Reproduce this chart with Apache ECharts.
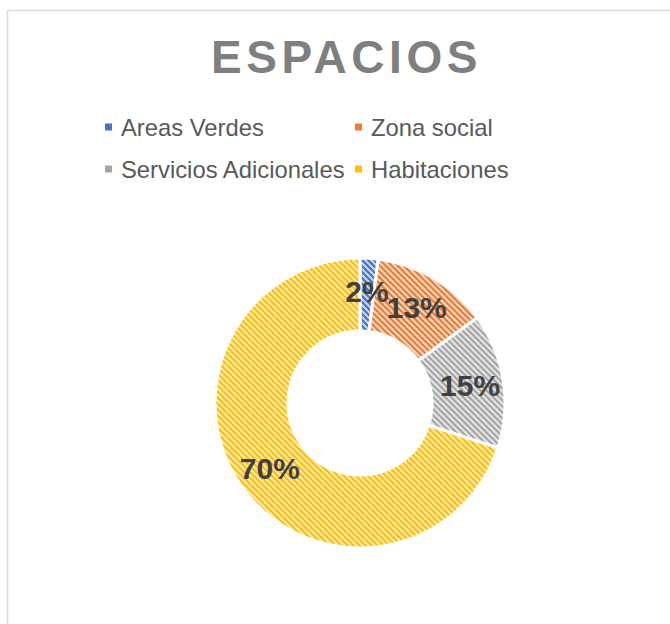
<!DOCTYPE html>
<html>
<head>
<meta charset="utf-8">
<script src="https://cdn.jsdelivr.net/npm/echarts@6/dist/echarts.min.js"></script>
<style>
html, body { margin: 0; padding: 0; background: #fff; }
#main { width: 670px; height: 624px; }
</style>
</head>
<body>
<div id="main"></div>
<script>
var titleText = 'ESPACIOS';
var categories = ['Areas Verdes', 'Zona social', 'Servicios Adicionales', 'Habitaciones'];
var values = [2, 13, 15, 70];
var colors = ['#4472C4', '#ED7D31', '#A5A5A5', '#FFC000'];
var tints = ['#c9d6ef', '#fad3b8', '#e4e4e4', '#ffe9a6'];

// diagonal hatch like Excel's "wide downward diagonal"
function hatch(fg, bg) {
    var c = document.createElement('canvas');
    c.width = 6; c.height = 6;
    var g = c.getContext('2d');
    g.fillStyle = bg;
    g.fillRect(0, 0, 6, 6);
    g.strokeStyle = fg;
    g.lineWidth = 2.1;
    g.beginPath();
    g.moveTo(-1, -1); g.lineTo(7, 7);
    g.moveTo(-4, 2); g.lineTo(4, 10);
    g.moveTo(2, -4); g.lineTo(10, 4);
    g.stroke();
    return { image: c, repeat: 'repeat', imageWidth: 6, imageHeight: 6 };
}

var pieData = [];
var legendItems = [];
for (var i = 0; i < categories.length; i++) {
    pieData.push({
        name: categories[i],
        value: values[i],
        itemStyle: { color: hatch(colors[i], tints[i]) }
    });
    legendItems.push({ name: categories[i], itemStyle: { color: colors[i], borderWidth: 0 } });
}

var legendCommon = {
    orient: 'vertical',
    top: 110,
    itemGap: 18,
    icon: 'rect',
    itemWidth: 7,
    itemHeight: 7,
    selectedMode: false,
    itemStyle: { borderWidth: 0 },
    textStyle: {
        fontFamily: 'Liberation Sans, Arial, sans-serif',
        fontSize: 23.8,
        color: '#595959',
        padding: [0, 0, 0, 4]
    }
};

var myChart = echarts.init(document.getElementById('main'), null, { renderer: 'svg' });

var option = {
    animation: false,
    title: {
        text: titleText,
        left: 206,
        top: 29,
        textStyle: {
            fontFamily: 'Liberation Sans, Arial, sans-serif',
            fontSize: 46,
            fontWeight: 'bold',
            color: '#7f7f7f'
        }
    },
    legend: [
        Object.assign({}, legendCommon, { left: 100, data: [legendItems[0], legendItems[2]] }),
        Object.assign({}, legendCommon, { left: 350, data: [legendItems[1], legendItems[3]] })
    ],
    graphic: [{
        type: 'rect',
        shape: { x: 7.5, y: 10.5, width: 700, height: 700 },
        style: { fill: 'none', stroke: '#d9d9d9', lineWidth: 1.5 },
        silent: true
    }],
    series: [{
        type: 'pie',
        center: [360, 403],
        radius: [72, 145],
        startAngle: 90,
        clockwise: true,
        avoidLabelOverlap: false,
        minShowLabelAngle: 0,
        labelLayout: { hideOverlap: false },
        itemStyle: { borderColor: '#fff', borderWidth: 3 },
        label: {
            show: true,
            position: 'inside',
            formatter: '{d}%',
            fontFamily: 'Liberation Sans, Arial, sans-serif',
            fontSize: 30,
            fontWeight: 'bold',
            color: '#404040'
        },
        labelLine: { show: false },
        emphasis: { scale: false },
        data: pieData
    }]
};

myChart.setOption(option);

// spread the title letters a bit
function spreadTitle() {
    var ts = document.querySelectorAll('#main text');
    for (var k = 0; k < ts.length; k++) {
        if (ts[k].textContent === titleText) {
            ts[k].setAttribute('letter-spacing', '4.6');
        }
    }
}
spreadTitle();
myChart.on('finished', spreadTitle);
setTimeout(spreadTitle, 50);
</script>
</body>
</html>
